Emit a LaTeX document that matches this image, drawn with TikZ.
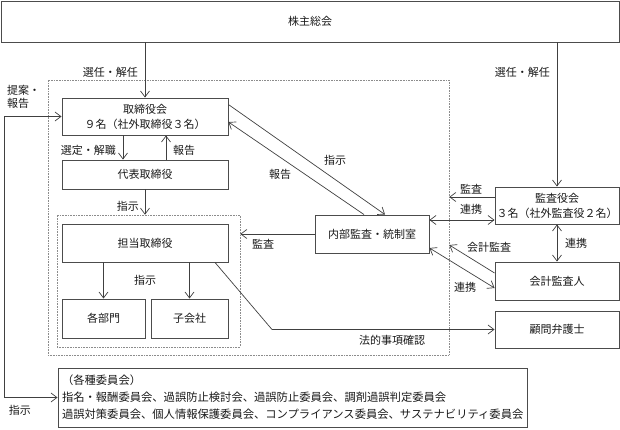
\documentclass[tikz,border=0pt]{standalone}
\usepackage{fontspec}
\setmainfont{Noto Sans CJK JP}
\usetikzlibrary{arrows.meta}
\begin{document}
\begin{tikzpicture}[x=1pt,y=-1pt,
  every node/.style={font=\fontsize{11}{15}\selectfont, text=black!90},
  box/.style={draw=black!70, line width=0.9pt, inner sep=0pt, align=center},
  dotbox/.style={draw=black!45, densely dotted, line width=0.6pt, inner sep=0pt},
  tip/.tip={Straight Barb[length=6pt,width=9pt]},
  arr/.style={draw=black!75, line width=0.7pt, -tip},
  darr/.style={draw=black!75, line width=0.7pt, tip-tip},
  lbl/.style={inner sep=1pt}]
\useasboundingbox (0,0) rectangle (620,430);
% boxes
\node[box, minimum width=618pt, minimum height=41pt] (sh) at (310,21.5) {株主総会};
\node[dotbox, minimum width=401pt, minimum height=275pt] (outer) at (248.5,217.5) {};
\node[dotbox, minimum width=183pt, minimum height=132pt] (inner) at (148.5,281) {};
\node[box, minimum width=166pt, minimum height=37pt] (tb) at (145,116.5) {取締役会\\９名（社外取締役３名）};
\node[box, minimum width=166pt, minimum height=29pt] (dh) at (145,174.5) {代表取締役};
\node[box, minimum width=166pt, minimum height=38pt] (tt) at (145,243) {担当取締役};
\node[box, minimum width=83pt, minimum height=39pt] (bm) at (103.5,318.5) {各部門};
\node[box, minimum width=77pt, minimum height=39pt] (ko) at (189.5,318.5) {子会社};
\node[box, minimum width=114pt, minimum height=38pt] (na) at (372,234) {内部監査・統制室};
\node[box, minimum width=124pt, minimum height=37pt] (ka) at (557,205.5) {監査役会\\３名（社外監査役２名）};
\node[box, minimum width=124pt, minimum height=38pt] (kk) at (557,281) {会計監査人};
\node[box, minimum width=124pt, minimum height=37pt] (bg) at (557,329.5) {顧問弁護士};
\node[box, align=left, text width=461pt, inner xsep=4pt, inner ysep=4pt, minimum height=59pt,
      font=\fontsize{11.3}{17}\selectfont] (ii) at (292.5,397.5)
  {（各種委員会）\\指名・報酬委員会、過誤防止検討会、過誤防止委員会、調剤過誤判定委員会\\過誤対策委員会、個人情報保護委員会、コンプライアンス委員会、サステナビリティ委員会};
% connectors
\draw[arr] (tb.north |- sh.south) -- (tb.north);
\node[lbl, anchor=east] at (139,72) {選任・解任};
\draw[arr] (ka.north |- sh.south) -- (ka.north);
\node[lbl, anchor=east] at (551,72) {選任・解任};
\draw[arr] ([xshift=-22pt]tb.south) -- ([xshift=-22pt]dh.north);
\node[lbl, anchor=east] at (117,150) {選定・解職};
\draw[arr] ([xshift=21pt]dh.north) -- ([xshift=21pt]tb.south);
\node[lbl, anchor=west] at (172,150) {報告};
\draw[arr] (dh.south) -- (dh.south |- inner.north);
\node[lbl, anchor=east] at (140,206) {指示};
\draw[arr] (bm.north |- tt.south) -- (bm.north);
\draw[arr] (ko.north |- tt.south) -- (ko.north);
\node[lbl] at (145,280) {指示};
\coordinate (lk) at (272,329.5);
\draw[arr] ([xshift=70pt]tt.south) -- (lk) -- (bg.west);
\node[lbl] at (392,340) {法的事項確認};
\draw[arr] ([yshift=-7pt]tb.north east) -- ([xshift=13pt]na.north);
\node[lbl] at (335,160) {指示};
\draw[arr] ([xshift=-8pt]na.north) -- ([yshift=-5.5pt]tb.east);
\node[lbl] at (280,174) {報告};
\draw[arr] (na.west) -- (inner.east |- na.west);
\node[lbl] at (263,244) {監査};
\coordinate (ka1) at ([yshift=8.5pt]ka.west);
\draw[arr] (ka1) -- (outer.east |- ka1);
\node[lbl] at (471,189) {監査};
\coordinate (ka2) at ([yshift=-14.5pt]ka.west);
\draw[darr] (na.east |- ka2) -- (ka2);
\node[lbl] at (471,209) {連携};
\coordinate (kk1) at ([yshift=8pt]kk.west);
\coordinate (o1) at ([yshift=-27.5pt]outer.east);
\draw[arr] (kk1) -- (o1);
\node[lbl] at (489,247) {会計監査};
\draw[darr] ([yshift=-14pt]na.east) -- ([yshift=-7pt]kk.west);
\node[lbl] at (465,287) {連携};
\draw[darr] (ka.south) -- (kk.north);
\node[lbl, anchor=west] at (564,243) {連携};
\draw[darr] (tb.west) -- ++(-57pt,0) |- (ii.west);
\node[lbl, anchor=north west, align=left, font=\fontsize{11}{13}\selectfont] at (6,84) {提案・\\報告};
\node[lbl] at (20,410) {指示};
\end{tikzpicture}
\end{document}
